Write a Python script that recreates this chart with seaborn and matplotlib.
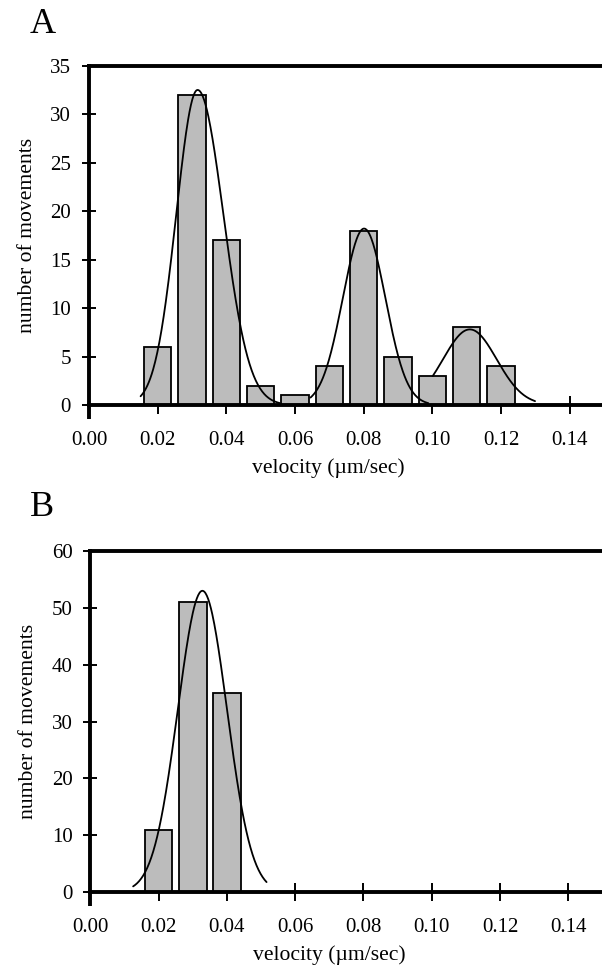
import numpy as np
import matplotlib
matplotlib.use("Agg")
import matplotlib.pyplot as plt
import seaborn as sns

# ==========================================
# Data
# ==========================================

# panel A histogram
a_centers = [0.02, 0.03, 0.04, 0.05, 0.06, 0.07, 0.08, 0.09, 0.10, 0.11, 0.12]
a_counts = [6, 32, 17, 2, 1, 4, 18, 5, 3, 8, 4]

# panel A fitted curves (peak, centre, left sd, right sd, start, end)
a_fit_peak = [32.5, 18.2, 7.8]
a_fit_center = [0.0316, 0.0801, 0.1109]
a_fit_sd_left = [0.0062, 0.0062, 0.0078]
a_fit_sd_right = [0.0075, 0.0062, 0.0078]
a_fit_start = [0.015, 0.0645, 0.1001]
a_fit_end = [0.0555, 0.0988, 0.1299]

# panel B histogram
b_centers = [0.02, 0.03, 0.04]
b_counts = [11, 51, 35]

# panel B fitted curve
b_fit_peak = [53.0]
b_fit_center = [0.0328]
b_fit_sd_left = [0.0072]
b_fit_sd_right = [0.0072]
b_fit_start = [0.0125]
b_fit_end = [0.0516]

x_ticks = [0.00, 0.02, 0.04, 0.06, 0.08, 0.10, 0.12, 0.14]
x_ticklabels = ["0.00", "0.02", "0.04", "0.06", "0.08", "0.10", "0.12", "0.14"]
a_yticks = [0, 5, 10, 15, 20, 25, 30, 35]
b_yticks = [0, 10, 20, 30, 40, 50, 60]

# ==========================================
# Style
# ==========================================

sns.set_style("white")
plt.rcParams["font.family"] = ["Liberation Serif", "DejaVu Serif"]
plt.rcParams["text.color"] = "black"
plt.rcParams["axes.labelcolor"] = "black"

fig = plt.figure(figsize=(6.02, 9.65), dpi=100)


def fit_curve(peak, center, sd_l, sd_r, start, end):
    x = np.linspace(start, end, 200)
    sd = np.where(x < center, sd_l, sd_r)
    y = peak * np.exp(-((x - center) ** 2) / (2 * sd ** 2))
    return x, y


def draw_panel(ax, centers, counts, fits, yticks, xmax):
    edges = [c - 0.005 for c in centers] + [centers[-1] + 0.005]
    sns.histplot(x=centers, weights=counts, bins=edges, shrink=0.8,
                 color="#bcbcbc", edgecolor="black", linewidth=1.3,
                 alpha=1, ax=ax)
    for p, c, sl, sr, s, e in zip(*fits):
        cx, cy = fit_curve(p, c, sl, sr, s, e)
        sns.lineplot(x=cx, y=cy, color="black", linewidth=1.3,
                     sort=False, ax=ax)

    ax.set_xlim(0, xmax)
    ax.set_ylim(0, yticks[-1])
    ax.set_xticks(x_ticks)
    ax.set_xticklabels(x_ticklabels)
    ax.set_yticks(yticks)

    for side in ["left", "top", "bottom"]:
        ax.spines[side].set_visible(True)
        ax.spines[side].set_linewidth(2.8)
        ax.spines[side].set_color("black")
    ax.spines["right"].set_visible(False)

    ax.tick_params(axis="y", direction="inout", length=10, width=1.4,
                   labelsize=15, pad=8, left=True, colors="black")
    ax.tick_params(axis="x", direction="inout", length=13, width=1.4,
                   labelsize=15, pad=12, bottom=True, colors="black")

    # y axis runs a little below zero, like the original
    ax.plot([0, 0], [0, -yticks[-1] * 0.041], color="black",
            linewidth=2.8, clip_on=False, solid_capstyle="butt")

    ax.set_ylabel("number of movements", fontsize=15.6)
    ax.set_xlabel("velocity (\u00b5m/sec)", fontsize=15.6)
    ax.yaxis.set_label_coords(-0.102, 0.5)
    ax.xaxis.set_label_coords(0.466, -0.156)


ax_a = fig.add_axes([0.148, 0.5803, 0.852, 0.3516])
draw_panel(ax_a, a_centers, a_counts,
           (a_fit_peak, a_fit_center, a_fit_sd_left, a_fit_sd_right,
            a_fit_start, a_fit_end),
           a_yticks, 0.1494)

ax_b = fig.add_axes([0.1503, 0.0756, 0.8497, 0.3534])
draw_panel(ax_b, b_centers, b_counts,
           (b_fit_peak, b_fit_center, b_fit_sd_left, b_fit_sd_right,
            b_fit_start, b_fit_end),
           b_yticks, 0.1499)

fig.text(0.05, 0.9655, "A", fontsize=26, va="baseline")
fig.text(0.05, 0.4653, "B", fontsize=26, va="baseline")

plt.savefig("out.png", dpi=100)
plt.close()
